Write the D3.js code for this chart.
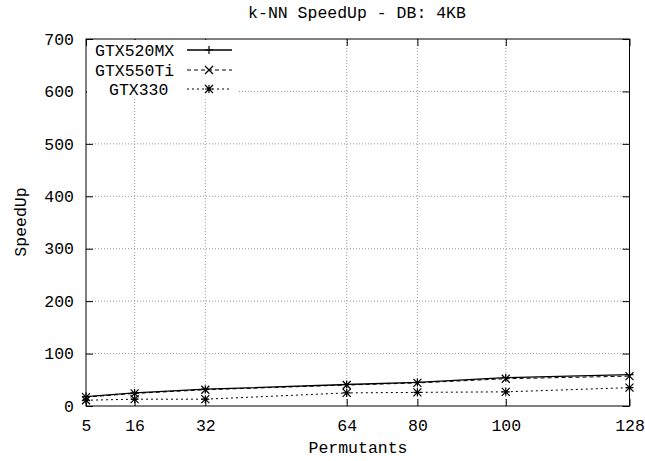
<!DOCTYPE html>
<html><head><meta charset="utf-8">
<script src="https://cdn.jsdelivr.net/npm/d3@7"></script>
<style>body{margin:0;background:#fff}svg{display:block}text{font-family:"Liberation Mono",monospace;fill:#000}</style>
</head><body><div id="c"></div>
<script>
const permutants = [5, 16, 32, 64, 80, 100, 128];
const gtx520mx = [18, 25, 32, 41, 45, 54, 60];
const gtx550ti = [17, 24, 31, 40, 44, 52, 57];
const gtx330 = [11, 13, 13, 25, 26, 27, 35];
const seriesNames = ["GTX520MX", "GTX550Ti", "GTX330"];
const yTicks = [0, 100, 200, 300, 400, 500, 600, 700];
const xTicks = [5, 16, 32, 64, 80, 100, 128];

const W = 645, H = 461;
const m = {l: 86, r: 15.5, t: 39, b: 55};
const svg = d3.select("#c").append("svg").attr("width", W).attr("height", H);
const x = d3.scaleLinear().domain([5, 128]).range([m.l, W - m.r]);
const y = d3.scaleLinear().domain([0, 700]).range([H - m.b, m.t]);
const fs = 16.5;

// grid
const g = svg.append("g");
g.selectAll(".gx").data(xTicks.filter(d => d > 5 && d < 128)).join("line")
  .attr("x1", d => x(d)).attr("x2", d => x(d)).attr("y1", y(0)).attr("y2", y(700))
  .attr("stroke", "#999").attr("stroke-dasharray", "1,2").attr("stroke-width", 1);
g.selectAll(".gy").data(yTicks.filter(d => d > 0 && d < 700)).join("line")
  .attr("x1", x(5)).attr("x2", x(128)).attr("y1", d => y(d)).attr("y2", d => y(d))
  .attr("stroke", "#999").attr("stroke-dasharray", "1,2").attr("stroke-width", 1);

// axes with mirrored inward ticks
const tl = 7;
const xb = svg.append("g").attr("transform", `translate(0,${y(0)})`)
  .call(d3.axisBottom(x).tickValues(xTicks).tickSize(-tl).tickPadding(tl + 6).tickSizeOuter(0));
const xt = svg.append("g").attr("transform", `translate(0,${y(700)})`)
  .call(d3.axisTop(x).tickValues(xTicks).tickSize(-tl).tickFormat("").tickSizeOuter(0));
const yl = svg.append("g").attr("transform", `translate(${x(5)},0)`)
  .call(d3.axisLeft(y).tickValues(yTicks).tickSize(-tl).tickPadding(tl + 5).tickSizeOuter(0));
const yr = svg.append("g").attr("transform", `translate(${x(128)},0)`)
  .call(d3.axisRight(y).tickValues(yTicks).tickSize(-tl).tickFormat("").tickSizeOuter(0));
[xb, xt, yl, yr].forEach(a => {
  a.select(".domain").remove();
  a.selectAll("line").attr("stroke", "#000");
  a.selectAll("text").style("font-family", '"Liberation Mono",monospace').style("font-size", fs + "px").attr("fill", "#000");
});

// frame
svg.append("rect").attr("x", x(5)).attr("y", y(700)).attr("width", x(128) - x(5)).attr("height", y(0) - y(700))
  .attr("fill", "none").attr("stroke", "#000").attr("stroke-width", 1);

// legend background
svg.append("rect").attr("x", 87).attr("y", 40).attr("width", 152).attr("height", 58).attr("fill", "#fff");

const dashes = [null, "4,3", "2,3"];
const markers = ["plus", "cross", "star"];
function marker(sel, type, cx, cy) {
  const s = 4;
  const p = [];
  if (type === "plus" || type === "star") p.push(`M${cx - s},${cy}H${cx + s}M${cx},${cy - s}V${cy + s}`);
  if (type === "cross" || type === "star") p.push(`M${cx - s},${cy - s}L${cx + s},${cy + s}M${cx - s},${cy + s}L${cx + s},${cy - s}`);
  sel.append("path").attr("d", p.join("")).attr("stroke", "#000").attr("stroke-width", 1.2).attr("fill", "none");
}

const data = [gtx520mx, gtx550ti, gtx330];
const line = d3.line().x(d => x(d[0])).y(d => y(d[1]));
data.forEach((vals, i) => {
  const pts = permutants.map((p, j) => [p, vals[j]]);
  svg.append("path").datum(pts).attr("d", line).attr("fill", "none").attr("stroke", "#000")
    .attr("stroke-width", i === 0 ? 1.3 : 1).attr("stroke-dasharray", dashes[i]);
  const mg = svg.append("g");
  pts.forEach(pt => marker(mg, markers[i], x(pt[0]), y(pt[1])));
});

// legend
const ly = [50, 70, 89];
const legendX = [95, 95, 109];
seriesNames.forEach((n, i) => {
  svg.append("text").attr("x", legendX[i]).attr("y", ly[i]).attr("dy", "0.35em").style("font-size", fs + "px").text(n);
  svg.append("line").attr("x1", 187).attr("x2", 232).attr("y1", ly[i]).attr("y2", ly[i])
    .attr("stroke", "#000").attr("stroke-width", i === 0 ? 1.3 : 1).attr("stroke-dasharray", dashes[i]);
  marker(svg, markers[i], 209, ly[i]);
});

// titles
svg.append("text").attr("x", 357).attr("y", 18).attr("text-anchor", "middle").style("font-size", fs + "px").text("k-NN SpeedUp - DB: 4KB");
svg.append("text").attr("x", 358).attr("y", 453).attr("text-anchor", "middle").style("font-size", fs + "px").text("Permutants");
svg.append("text").attr("transform", `translate(26,222) rotate(-90)`).attr("text-anchor", "middle").style("font-size", fs + "px").text("SpeedUp");
</script></body></html>
